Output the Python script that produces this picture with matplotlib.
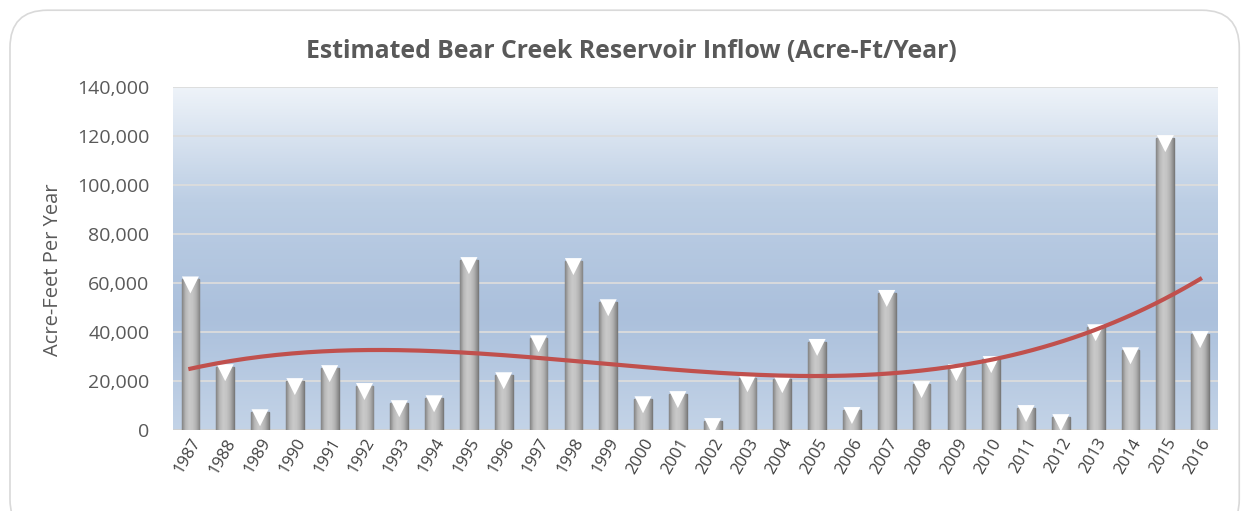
import numpy as np
import matplotlib.pyplot as plt
from matplotlib.colors import LinearSegmentedColormap
from matplotlib.patches import FancyBboxPatch
from matplotlib.ticker import FuncFormatter

years = list(range(1987, 2017))
inflow = [61500, 25700, 7300, 20000, 25300, 18000, 11000, 13000, 69400, 22400,
          37500, 69000, 52200, 12600, 14700, 3700, 21200, 20800, 36000, 8200,
          56000, 18800, 25700, 29000, 9000, 5300, 42000, 32600, 119200, 39200]

plt.rcParams['font.family'] = ['Open Sans', 'DejaVu Sans']

fig = plt.figure(figsize=(12.48, 5.11), dpi=100)
border = FancyBboxPatch((0.008, -0.05), 0.985, 1.03, transform=fig.transFigure,
                        boxstyle="round,pad=0,rounding_size=0.03",
                        facecolor='white', edgecolor='#d9d9d9', lw=1.2,
                        mutation_aspect=1248/511, zorder=-10)
fig.patches.append(border)

ax = fig.add_axes([0.1386, 0.1585, 0.837, 0.6712])
ax.set_zorder(5)
x = np.arange(len(years))
ax.set_xlim(-0.5, len(years) - 0.5)
ax.set_ylim(0, 140000)

# background gradient
bg = LinearSegmentedColormap.from_list('bg', ['#c3d3e7', '#abc0dc', '#bccee4', '#eef3f9'])
grad = np.linspace(0, 1, 256).reshape(-1, 1)
ax.imshow(grad, cmap=bg, aspect='auto', origin='lower',
          extent=[-0.5, len(years) - 0.5, 0, 140000], zorder=0)

for yv in range(20000, 140001, 20000):
    ax.axhline(yv, color='#dcdcdc', lw=1.3, zorder=1)
ax.axhline(0, color='#d0d0d0', lw=2, zorder=1)

# bars with horizontal gray shading
bars = ax.bar(x, inflow, width=0.51, color='#bdbdbd', edgecolor='#7a7a7a', lw=1.0, zorder=2)
shade = LinearSegmentedColormap.from_list('sh', ['#858585', '#b8b8b8', '#c9c9c9', '#c4c4c4', '#b0b0b0', '#858585'])
hgrad = np.linspace(0, 1, 64).reshape(1, -1)
for b in bars:
    im = ax.imshow(hgrad, cmap=shade, aspect='auto',
                   extent=[b.get_x(), b.get_x() + b.get_width(), 0, b.get_height()], zorder=3)
    im.set_clip_path(b)
ax.scatter(x, np.array(inflow) - 2300, marker='v', s=150, color='white',
           edgecolors='none', zorder=4)
ax.set_xlim(-0.5, len(years) - 0.5)
ax.set_ylim(0, 140000)

# cubic trendline
coef = np.polyfit(x, inflow, 3)
xs = np.linspace(0, len(years) - 1, 200)
ax.plot(xs, np.polyval(coef, xs), color='#c0504d', lw=3, zorder=5)

for s in ax.spines.values():
    s.set_visible(False)
ax.set_xticks(x)
ax.set_xticklabels([str(y) for y in years], rotation=60, ha='right',
                   rotation_mode='anchor', fontsize=12, color='#404040')
ax.set_yticks(range(0, 140001, 20000))
ax.yaxis.set_major_formatter(FuncFormatter(lambda v, p: f'{int(v):,}'))
ax.tick_params(axis='y', labelsize=14, colors='#595959', length=0, pad=17)
ax.tick_params(axis='x', length=0, pad=4)
ax.set_ylabel('Acre-Feet Per Year', fontsize=14.5, color='#595959')
ax.yaxis.set_label_coords(-0.105, 0.468)

fig.text(0.506, 0.9, 'Estimated Bear Creek Reservoir Inflow (Acre-Ft/Year)',
         ha='center', va='center', fontsize=17.8, fontweight='bold', color='#595959')

fig.savefig('out.png', dpi=100)
